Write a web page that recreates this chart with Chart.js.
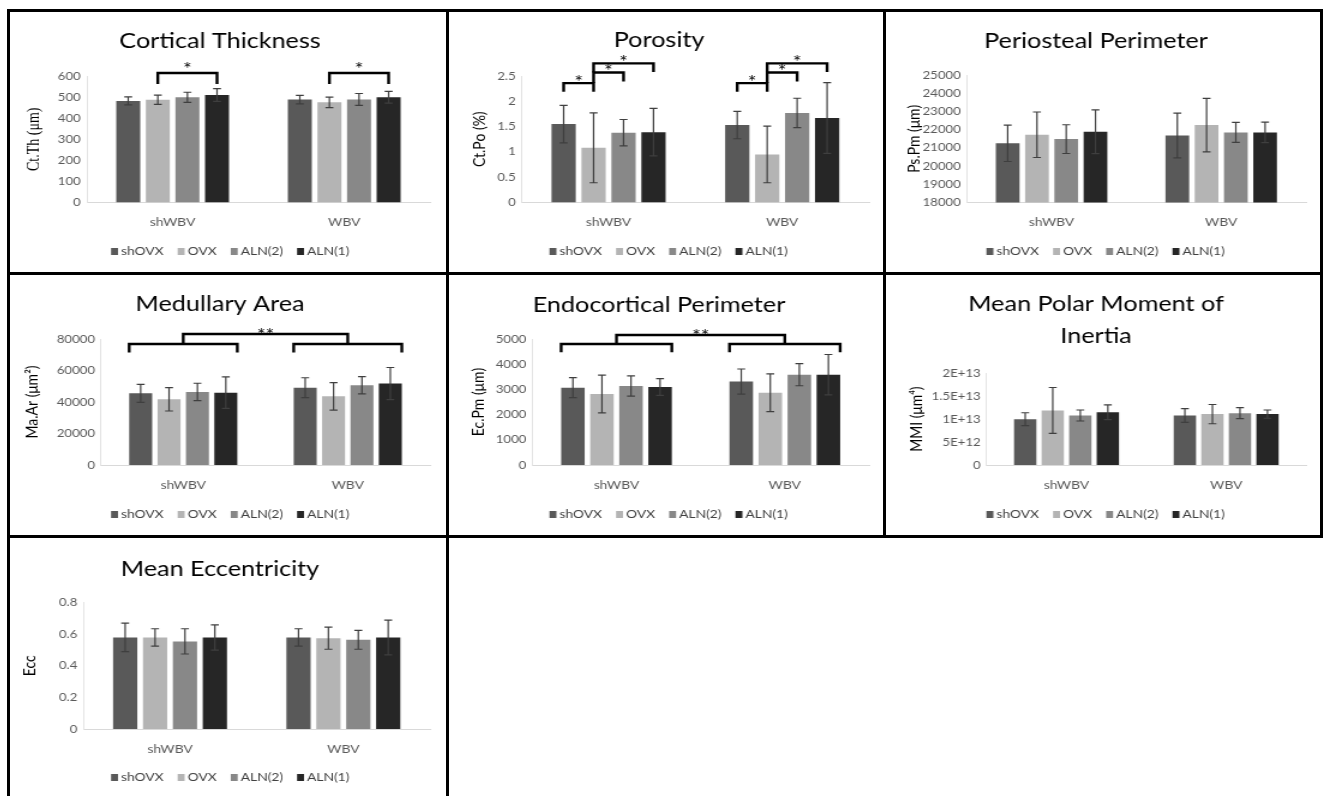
<!DOCTYPE html>
<html>
<head>
<meta charset="utf-8">
<script src="https://cdn.jsdelivr.net/npm/chart.js@4.4.0/dist/chart.umd.min.js"></script>
<style>
  html, body { margin: 0; padding: 0; background: #fff; width: 1323px; height: 796px; overflow: hidden; }
  .panel { position: absolute; box-sizing: border-box; border: 3px solid #000; overflow: hidden; background: #fff; }
  /* the figure is stretched sideways, so each chart is drawn narrow and widened */
  .panel canvas { position: absolute; left: 0; top: 0; transform: scaleX(1.2); transform-origin: 0 0; }
</style>
</head>
<body>
<div class="panel" style="left:7px;top:9px;width:442px;height:266px"><canvas id="ct" width="363" height="260"></canvas></div>
<div class="panel" style="left:446px;top:9px;width:440px;height:266px"><canvas id="po" width="362" height="260"></canvas></div>
<div class="panel" style="left:883px;top:9px;width:440px;height:266px"><canvas id="ps" width="362" height="260"></canvas></div>
<div class="panel" style="left:7px;top:272px;width:442px;height:266px"><canvas id="ma" width="363" height="260"></canvas></div>
<div class="panel" style="left:446px;top:272px;width:440px;height:266px"><canvas id="ec" width="362" height="260"></canvas></div>
<div class="panel" style="left:883px;top:272px;width:440px;height:266px"><canvas id="mmi" width="362" height="260"></canvas></div>
<div class="panel" style="left:7px;top:535px;width:442px;height:266px"><canvas id="ecc" width="363" height="260"></canvas></div>

<script>
const categories = ['shWBV', 'WBV'];
const groups = ['shOVX', 'OVX', 'ALN(2)', 'ALN(1)'];
const colors = ['#595959', '#b4b4b4', '#888888', '#262626'];

// one row per group (shOVX, OVX, ALN(2), ALN(1)), values for [shWBV, WBV]
const ctMean = [[482, 488], [487, 475], [499, 489], [510, 499]];
const ctErr = [[19, 20], [22, 25], [24, 28], [30, 28]];
const ctTicks = [0, 600, 100];

const poMean = [[1.55, 1.53], [1.08, 0.95], [1.38, 1.77], [1.39, 1.67]];
const poErr = [[0.37, 0.27], [0.69, 0.56], [0.26, 0.29], [0.47, 0.70]];
const poTicks = [0, 2.5, 0.5];

const psMean = [[21250, 21680], [21720, 22250], [21480, 21850], [21880, 21850]];
const psErr = [[1000, 1230], [1250, 1470], [790, 550], [1200, 560]];
const psTicks = [18000, 25000, 1000];

const maMean = [[45500, 49100], [41700, 43600], [46400, 50600], [45900, 51700]];
const maErr = [[5700, 6300], [7400, 8700], [5500, 5500], [10000, 10200]];
const maTicks = [0, 80000, 20000];

const ecMean = [[3070, 3310], [2820, 2870], [3135, 3585], [3095, 3585]];
const ecErr = [[400, 500], [750, 750], [400, 440], [330, 800]];
const ecTicks = [0, 5000, 1000];

const mmiMean = [[1.00e13, 1.08e13], [1.19e13, 1.11e13], [1.08e13, 1.13e13], [1.15e13, 1.11e13]];
const mmiErr = [[0.14e13, 0.15e13], [0.50e13, 0.21e13], [0.12e13, 0.12e13], [0.16e13, 0.09e13]];
const mmiTicks = [0, 2e13, 5e12];

const eccMean = [[0.58, 0.58], [0.58, 0.575], [0.555, 0.565], [0.58, 0.58]];
const eccErr = [[0.09, 0.055], [0.055, 0.07], [0.08, 0.06], [0.08, 0.11]];
const eccTicks = [0, 0.8, 0.2];

// significance brackets: [from, to, line value, left leg end, right leg end, label]
// from/to = [category, group, side]  (side -1 left edge, 1 right edge); [category] = category centre
const ctSig = [
  [[0, 1], [0, 3], 614, 562, 562, '*'],
  [[1, 1], [1, 3], 614, 562, 562, '*']
];
const poSig = [
  [[0, 0], [0, 1], 2.36, 2.19, 2.19, '*'],
  [[0, 1], [0, 2], 2.57, 2.36, 2.39, '*'],
  [[0, 1], [0, 3], 2.75, 2.57, 2.58, '*'],
  [[1, 0], [1, 1], 2.36, 2.19, 2.19, '*'],
  [[1, 1], [1, 2], 2.57, 2.36, 2.39, '*'],
  [[1, 1], [1, 3], 2.75, 2.57, 2.58, '*']
];
const maSig = [
  [[0, 0, -1], [0, 3, 1], 76800, 71500, 71500, ''],
  [[1, 0, -1], [1, 3, 1], 76800, 71500, 71500, ''],
  [[0], [1], 83200, 76800, 76800, '**']
];
const ecSig = [
  [[0, 0, -1], [0, 3, 1], 4800, 4470, 4470, ''],
  [[1, 0, -1], [1, 3, 1], 4800, 4470, 4470, ''],
  [[0], [1], 5160, 4800, 4800, '**']
];

function tickText(v) {
  if (v === 0) return '0';
  if (v >= 1e12) {
    const e = Math.floor(Math.log10(v));
    return +(v / Math.pow(10, e)).toFixed(2) + 'E+' + e;
  }
  return String(+v.toFixed(4));
}

// error bars, significance brackets and the small legend row
const marks = {
  id: 'marks',
  afterDraw(chart, args, o) {
    const ctx = chart.ctx, y = chart.scales.y, x = chart.scales.x;
    ctx.save();
    ctx.strokeStyle = '#3f3f3f';
    ctx.lineWidth = 1.2;
    o.err.forEach((errs, g) => {
      chart.getDatasetMeta(g).data.forEach((bar, c) => {
        const v = chart.data.datasets[g].data[c];
        const t = y.getPixelForValue(v + errs[c]), b = y.getPixelForValue(v - errs[c]);
        ctx.beginPath();
        ctx.moveTo(bar.x, t); ctx.lineTo(bar.x, b);
        ctx.moveTo(bar.x - 3.3, t); ctx.lineTo(bar.x + 3.3, t);
        ctx.moveTo(bar.x - 3.3, b); ctx.lineTo(bar.x + 3.3, b);
        ctx.stroke();
      });
    });

    const px = (r) => {
      if (r.length === 1) return x.getPixelForValue(r[0]);
      const bar = chart.getDatasetMeta(r[1]).data[r[0]];
      return bar.x + (r[2] || 0) * bar.width / 2;
    };
    ctx.strokeStyle = '#000';
    ctx.fillStyle = '#000';
    ctx.lineWidth = 2.4;
    ctx.font = '17px Lato';
    ctx.textAlign = 'center';
    ctx.textBaseline = 'alphabetic';
    (o.sig || []).forEach(s => {
      const xa = px(s[0]), xb = px(s[1]);
      const yl = y.getPixelForValue(s[2]);
      ctx.beginPath();
      ctx.moveTo(xa, y.getPixelForValue(s[3]));
      ctx.lineTo(xa, yl);
      ctx.lineTo(xb, yl);
      ctx.lineTo(xb, y.getPixelForValue(s[4]));
      ctx.stroke();
      if (s[5]) ctx.fillText(s[5], (xa + xb) / 2, yl + o.dy);
    });

    // legend: small square, tight gap, wider spacing between items
    ctx.font = '11.5px Lato';
    ctx.textAlign = 'left';
    ctx.textBaseline = 'middle';
    const items = chart.data.datasets.map(d => ({ text: d.label, color: d.backgroundColor, w: ctx.measureText(d.label).width }));
    const total = items.reduce((a, it) => a + 8.3 + it.w, 0) + 11.7 * (items.length - 1);
    let lx = chart.width / 2 + 2 - total / 2;
    const ly = 239.5;
    items.forEach(it => {
      ctx.fillStyle = it.color;
      ctx.fillRect(lx, ly - 3.5, 5.8, 7);
      ctx.fillStyle = '#404040';
      ctx.fillText(it.text, lx + 8.3, ly);
      lx += 8.3 + it.w + 11.7;
    });
    ctx.restore();
  }
};

function barChart(id, o) {
  const lines = Array.isArray(o.title) ? o.title.length : 1;
  const lh = lines > 1 ? 32.2 : 25.2;
  const titleTop = o.titleMid - lh / 2;
  const canvas = document.getElementById(id);
  return new Chart(canvas, {
    type: 'bar',
    data: {
      labels: categories,
      datasets: groups.map((g, i) => ({
        label: g,
        data: o.mean[i],
        backgroundColor: colors[i],
        borderWidth: 0,
        categoryPercentage: 0.69,
        barPercentage: 0.81
      }))
    },
    options: {
      responsive: false,
      maintainAspectRatio: false,
      animation: false,
      devicePixelRatio: 1,
      events: [],
      layout: { padding: { left: 0, right: canvas.width - 350, top: 0, bottom: 0 } },
      scales: {
        x: {
          grid: { display: false, drawTicks: false },
          border: { display: true, color: '#d9d9d9', width: 1 },
          ticks: { color: '#595959', font: { family: 'Lato', size: 11.5 }, padding: 13 },
          afterFit: (s) => { s.height = 260 - o.plotBottom; }
        },
        y: {
          min: o.ticks[0],
          max: o.ticks[1],
          grid: { display: false, drawTicks: false },
          border: { display: true, color: '#e3e3e3', width: 1 },
          ticks: {
            stepSize: o.ticks[2],
            color: '#595959',
            font: { family: 'Lato', size: 11 },
            padding: 5,
            callback: (v) => tickText(v)
          },
          title: {
            display: true,
            text: o.yTitle,
            color: '#000',
            font: { family: o.yFont || 'Lato', size: 14 },
            padding: { top: o.yTitleMid - 8.4, bottom: 0 }
          },
          afterFit: (s) => { s.width = o.left; }
        }
      },
      plugins: {
        title: {
          display: true,
          text: o.title,
          color: '#000',
          font: { family: 'Lato', size: 21, weight: 'normal', lineHeight: lh / 21 },
          padding: { top: titleTop, bottom: o.plotTop - titleTop - lines * lh }
        },
        legend: { display: false },
        tooltip: { enabled: false },
        marks: { err: o.err, sig: o.sig, dy: o.dy || 0 }
      }
    },
    plugins: [marks]
  });
}

barChart('ct', { title: 'Cortical Thickness', yTitle: 'Ct.Th (μm)', yFont: 'Liberation Serif',
  mean: ctMean, err: ctErr, ticks: ctTicks, sig: ctSig, dy: 1.5,
  left: 64, yTitleMid: 20.8, titleMid: 29, plotTop: 64, plotBottom: 190.5 });
barChart('po', { title: 'Porosity', yTitle: 'Ct.Po (%)',
  mean: poMean, err: poErr, ticks: poTicks, sig: poSig, dy: 4.5,
  left: 60.6, yTitleMid: 25.8, titleMid: 28.3, plotTop: 64, plotBottom: 190.5 });
barChart('ps', { title: 'Periosteal Perimeter', yTitle: 'Ps.Pm (μm)',
  mean: psMean, err: psErr, ticks: psTicks,
  left: 67.3, yTitleMid: 23.5, titleMid: 28.8, plotTop: 63, plotBottom: 190.5 });
barChart('ma', { title: 'Medullary Area', yTitle: 'Ma.Ar (μm²)',
  mean: maMean, err: maErr, ticks: maTicks, sig: maSig, dy: 7,
  left: 75.8, yTitleMid: 18.3, titleMid: 29, plotTop: 64, plotBottom: 190 });
barChart('ec', { title: 'Endocortical Perimeter', yTitle: 'Ec.Pm (μm)',
  mean: ecMean, err: ecErr, ticks: ecTicks, sig: ecSig, dy: 7,
  left: 69.4, yTitleMid: 24.2, titleMid: 30.3, plotTop: 64, plotBottom: 190 });
barChart('mmi', { title: ['Mean Polar Moment of', 'Inertia'], yTitle: 'MMI (μm⁴)',
  mean: mmiMean, err: mmiErr, ticks: mmiTicks,
  left: 83.9, yTitleMid: 25.8, titleMid: 29.5, plotTop: 98.3, plotBottom: 190 });
barChart('ecc', { title: 'Mean Eccentricity', yTitle: 'Ecc',
  mean: eccMean, err: eccErr, ticks: eccTicks,
  left: 61.1, yTitleMid: 16.7, titleMid: 31, plotTop: 64.7, plotBottom: 191 });
</script>
</body>
</html>
